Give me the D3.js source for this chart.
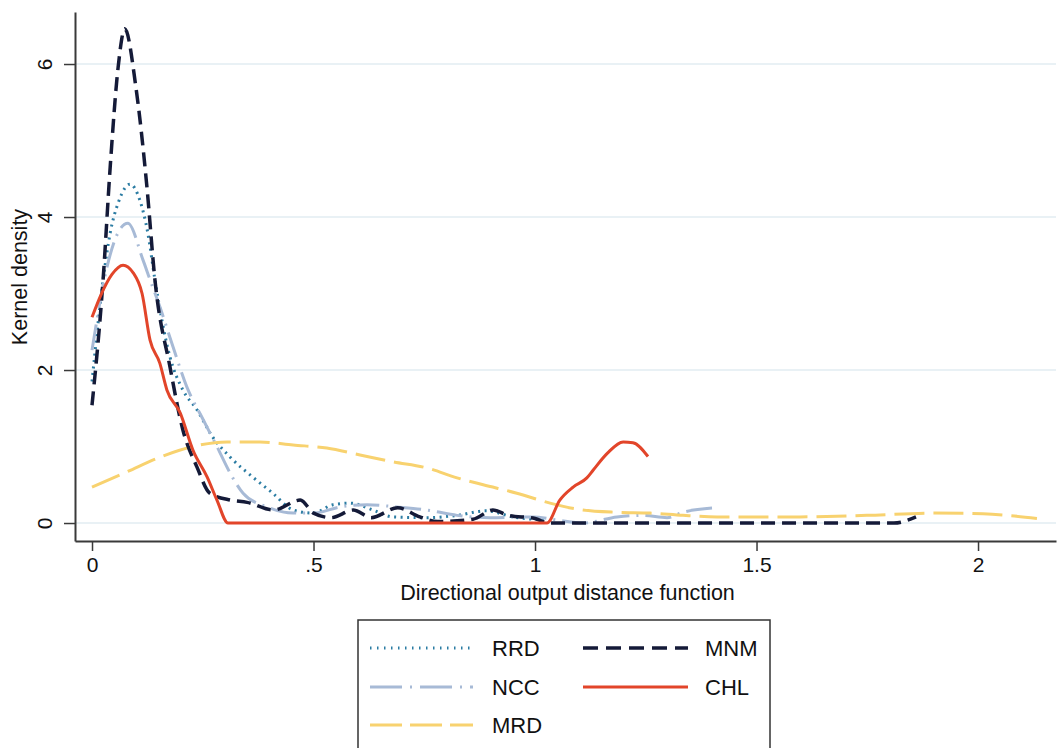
<!DOCTYPE html>
<html>
<head>
<meta charset="utf-8">
<script src="https://cdn.jsdelivr.net/npm/d3@7"></script>
<style>
  body { margin: 0; background: #fff; }
  svg { display: block; font-family: "Liberation Sans", Arial, sans-serif; }
</style>
</head>
<body>
<script>
// kernel density estimates
var rrdX = [0, 0.029, 0.041, 0.06, 0.086, 0.108, 0.126, 0.142, 0.176, 0.205, 0.237, 0.273, 0.312, 0.363, 0.408, 0.454, 0.499, 0.544, 0.582, 0.634, 0.679, 0.756, 0.824, 0.89, 0.95, 1.02]
var rrdY = [1.85, 3.35, 3.79, 4.2, 4.43, 4.22, 3.79, 3.18, 2.17, 1.74, 1.48, 1.12, 0.86, 0.6, 0.39, 0.17, 0.13, 0.24, 0.26, 0.17, 0.08, 0.07, 0.1, 0.16, 0.08, 0.04]

var nccX = [0, 0.034, 0.055, 0.081, 0.115, 0.131, 0.153, 0.183, 0.214, 0.251, 0.282, 0.312, 0.341, 0.395, 0.454, 0.499, 0.56, 0.621, 0.688, 0.756, 0.824, 0.898, 0.995, 1.05, 1.108, 1.185, 1.244, 1.298, 1.334, 1.411]
var nccY = [2.26, 3.35, 3.75, 3.92, 3.44, 3.18, 2.83, 2.3, 1.78, 1.35, 1.0, 0.65, 0.39, 0.21, 0.13, 0.13, 0.21, 0.24, 0.21, 0.17, 0.1, 0.07, 0.08, 0.04, 0, 0.08, 0.1, 0.07, 0.14, 0.2]

var mrdX = [0, 0.079, 0.153, 0.228, 0.305, 0.379, 0.454, 0.53, 0.605, 0.679, 0.756, 0.824, 0.883, 0.959, 1.034, 1.108, 1.185, 1.26, 1.334, 1.411, 1.485, 1.598, 1.749, 1.898, 2.011, 2.133]
var mrdY = [0.47, 0.67, 0.86, 1.0, 1.06, 1.06, 1.02, 0.98, 0.89, 0.8, 0.72, 0.59, 0.5, 0.39, 0.26, 0.17, 0.14, 0.13, 0.1, 0.08, 0.08, 0.08, 0.1, 0.13, 0.12, 0.06]

var mnmX = [0, 0.025, 0.041, 0.059, 0.074, 0.099, 0.124, 0.142, 0.176, 0.205, 0.237, 0.266, 0.312, 0.35, 0.41, 0.47, 0.5, 0.54, 0.59, 0.63, 0.69, 0.74, 0.78, 0.86, 0.905, 0.94, 1.0, 1.03, 1.81, 1.86]
var mnmY = [1.54, 3.18, 4.65, 5.96, 6.46, 5.7, 4.39, 3.18, 2.04, 1.22, 0.73, 0.39, 0.3, 0.27, 0.17, 0.3, 0.13, 0.07, 0.17, 0.07, 0.2, 0.08, 0.02, 0.05, 0.17, 0.1, 0.06, 0, 0, 0.08]

var chlX = [0, 0.02, 0.045, 0.07, 0.093, 0.113, 0.131, 0.153, 0.169, 0.199, 0.228, 0.26, 0.282, 0.307, 1.027, 1.056, 1.086, 1.117, 1.131, 1.163, 1.199, 1.221, 1.255]
var chlY = [2.69, 2.98, 3.25, 3.37, 3.27, 3.0, 2.39, 2.09, 1.74, 1.44, 0.95, 0.6, 0.3, 0, 0, 0.3, 0.47, 0.59, 0.69, 0.91, 1.06, 1.05, 0.87]

var seriesNames = ['RRD', 'NCC', 'MRD', 'MNM', 'CHL']
var xTicks = [0, 0.5, 1, 1.5, 2]
var xTickLabels = ['0', '.5', '1', '1.5', '2']
var yTicks = [0, 2, 4, 6]

var width = 1060, height = 748
var pl = 75, pr = 1056, pt = 12, pb = 541

var x = d3.scaleLinear().domain([-0.0384, 2.176]).range([pl, pr])
var y = d3.scaleLinear().domain([-0.235, 6.68]).range([pb, pt])

var styles = {
  RRD: { color: '#2b7ca3', dash: '2,4.5', width: 3 },
  NCC: { color: '#a7bad6', dash: '26,7,2,7', width: 3 },
  MRD: { color: '#f8d26f', dash: '30,9', width: 3 },
  MNM: { color: '#141a38', dash: '14,7', width: 3.5 },
  CHL: { color: '#e2452a', dash: null, width: 3 }
}

var data = {
  RRD: d3.zip(rrdX, rrdY),
  NCC: d3.zip(nccX, nccY),
  MRD: d3.zip(mrdX, mrdY),
  MNM: d3.zip(mnmX, mnmY),
  CHL: d3.zip(chlX, chlY)
}

var svg = d3.select('body').append('svg')
  .attr('width', width).attr('height', height)

// grid lines
svg.append('g').selectAll('line')
  .data(yTicks).enter().append('line')
    .attr('x1', pl).attr('x2', pr)
    .attr('y1', function(d){ return y(d) }).attr('y2', function(d){ return y(d) })
    .attr('stroke', '#e2ecf2').attr('stroke-width', 1.5)

// curves
var line = d3.line()
  .x(function(d){ return x(d[0]) })
  .y(function(d){ return y(d[1]) })
  .curve(d3.curveMonotoneX)

svg.append('g').selectAll('path')
  .data(seriesNames).enter().append('path')
    .attr('d', function(d){ return line(data[d]) })
    .attr('fill', 'none')
    .attr('stroke', function(d){ return styles[d].color })
    .attr('stroke-width', function(d){ return styles[d].width })
    .attr('stroke-dasharray', function(d){ return styles[d].dash })
    .attr('stroke-linejoin', 'round')

// axes
var xAxis = d3.axisBottom(x).tickValues(xTicks)
  .tickFormat(function(d, i){ return xTickLabels[i] })
  .tickSize(10).tickPadding(6).tickSizeOuter(0)
var gx = svg.append('g').attr('transform', 'translate(0,' + pb + ')').call(xAxis)
gx.select('.domain').attr('stroke', '#3a3a3a').attr('stroke-width', 2)
gx.selectAll('.tick line').attr('stroke', '#3a3a3a').attr('stroke-width', 1.5)
gx.selectAll('.tick text').attr('font-size', 21).attr('fill', '#111')
  .attr('font-family', '"Liberation Sans", Arial, sans-serif')

var yAxis = d3.axisLeft(y).tickValues(yTicks).tickFormat(d3.format('d'))
  .tickSize(11).tickPadding(0).tickSizeOuter(0)
var gy = svg.append('g').attr('transform', 'translate(' + pl + ',0)').call(yAxis)
gy.select('.domain').attr('stroke', '#3a3a3a').attr('stroke-width', 2)
gy.selectAll('.tick line').attr('stroke', '#3a3a3a').attr('stroke-width', 1.5)
gy.selectAll('.tick text')
  .attr('font-size', 21).attr('fill', '#111')
  .attr('font-family', '"Liberation Sans", Arial, sans-serif')
  .attr('x', null)
  .attr('text-anchor', 'middle')
  .attr('transform', 'translate(-30,0) rotate(-90)')
  .attr('dy', '0.35em')

// axis titles
svg.append('text')
  .attr('x', (pl + pr) / 2 + 2).attr('y', 600)
  .attr('text-anchor', 'middle').attr('font-size', 21.5).attr('fill', '#111')
  .text('Directional output distance function')

svg.append('text')
  .attr('transform', 'translate(27,' + 277 + ') rotate(-90)')
  .attr('text-anchor', 'middle').attr('font-size', 21.5).attr('fill', '#111')
  .text('Kernel density')

// legend
var legend = svg.append('g')
legend.append('rect')
  .attr('x', 358).attr('y', 620).attr('width', 412).attr('height', 140)
  .attr('fill', '#fff').attr('stroke', '#333').attr('stroke-width', 1.5)

var legendPos = [
  { x: 370, y: 648 }, { x: 370, y: 687 }, { x: 370, y: 725 },
  { x: 583, y: 648 }, { x: 583, y: 687 }
]
var items = legend.selectAll('g.item')
  .data(seriesNames).enter().append('g')
    .attr('transform', function(d, i){ return 'translate(' + legendPos[i].x + ',' + legendPos[i].y + ')' })
items.append('line')
  .attr('x1', 0).attr('x2', function(d, i){ return i < 3 ? 103 : 105 })
  .attr('stroke', function(d){ return styles[d].color })
  .attr('stroke-width', function(d){ return d === 'RRD' ? 3 : styles[d].width })
  .attr('stroke-dasharray', function(d){ return d === 'RRD' ? '1.5,5.5' : (d === 'NCC' ? '32,8,2,8' : (d === 'MRD' ? '32,8' : (d === 'MNM' ? '15,8' : null))) })
items.append('text')
  .attr('x', 122)
  .attr('dy', '0.35em').attr('font-size', 22).attr('fill', '#111')
  .text(function(d){ return d })
</script>
</body>
</html>
